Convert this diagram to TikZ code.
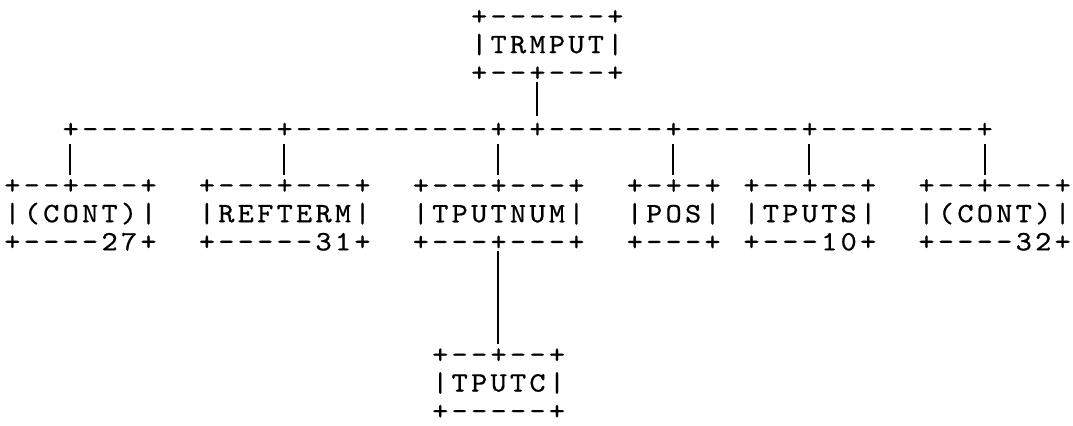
\documentclass[tikz,border=0pt]{standalone}
\usepackage{fontspec}
\newfontfamily\typer[FakeStretch=1.1, LetterSpace=11.7, FakeBold=0.6]{lmmono10-regular.otf}

\begin{document}
\begin{tikzpicture}[x=9.725pt, y=-14.1pt,
  font=\typer\fontsize{14pt}{14.1pt}\selectfont,
  box/.style={anchor=west, xshift=-4.04pt, inner sep=0pt, align=left},
  link/.style={line width=1pt}]
\useasboundingbox (-0.617,-0.62) rectangle (54.55,14.454);
% calling routine and its fan-out line
\node[box] (trmput) at (24,1) {+------+\\|TRMPUT|\\+--+---+};
\node[box] (bus) at (3,4) {+----------+----------+-+------+------+--------+};
\coordinate (j1) at (3,4);
\coordinate (j2) at (14,4);
\coordinate (j3) at (25,4);
\coordinate (j4) at (27,4);
\coordinate (j5) at (34,4);
\coordinate (j6) at (41,4);
\coordinate (j7) at (50,4);
% called routines
\node[box] (cont1) at (0,7) {+--+---+\\|(CONT)|\\+----27+};
\node[box] (refterm) at (10,7) {+---+---+\\|REFTERM|\\+-----31+};
\node[box] (tputnum) at (21,7) {+---+---+\\|TPUTNUM|\\+---+---+};
\node[box] (pos) at (32,7) {+-+-+\\|POS|\\+---+};
\node[box] (tputs) at (38,7) {+--+--+\\|TPUTS|\\+---10+};
\node[box] (cont2) at (47,7) {+--+---+\\|(CONT)|\\+----32+};
\node[box] (tputc) at (22,13) {+--+--+\\|TPUTC|\\+-----+};
% connectors
\draw[link, shorten >=7pt] (trmput.south -| j4) -- (j4);
\foreach \j/\b in {j1/cont1, j2/refterm, j3/tputnum, j5/pos, j6/tputs, j7/cont2}
  \draw[link, shorten <=7pt, shorten >=2pt] (\j) -- (\j |- \b.north);
\draw[link, shorten >=2pt] (tputnum.south -| j3) -- (j3 |- tputc.north);
\end{tikzpicture}
\end{document}
